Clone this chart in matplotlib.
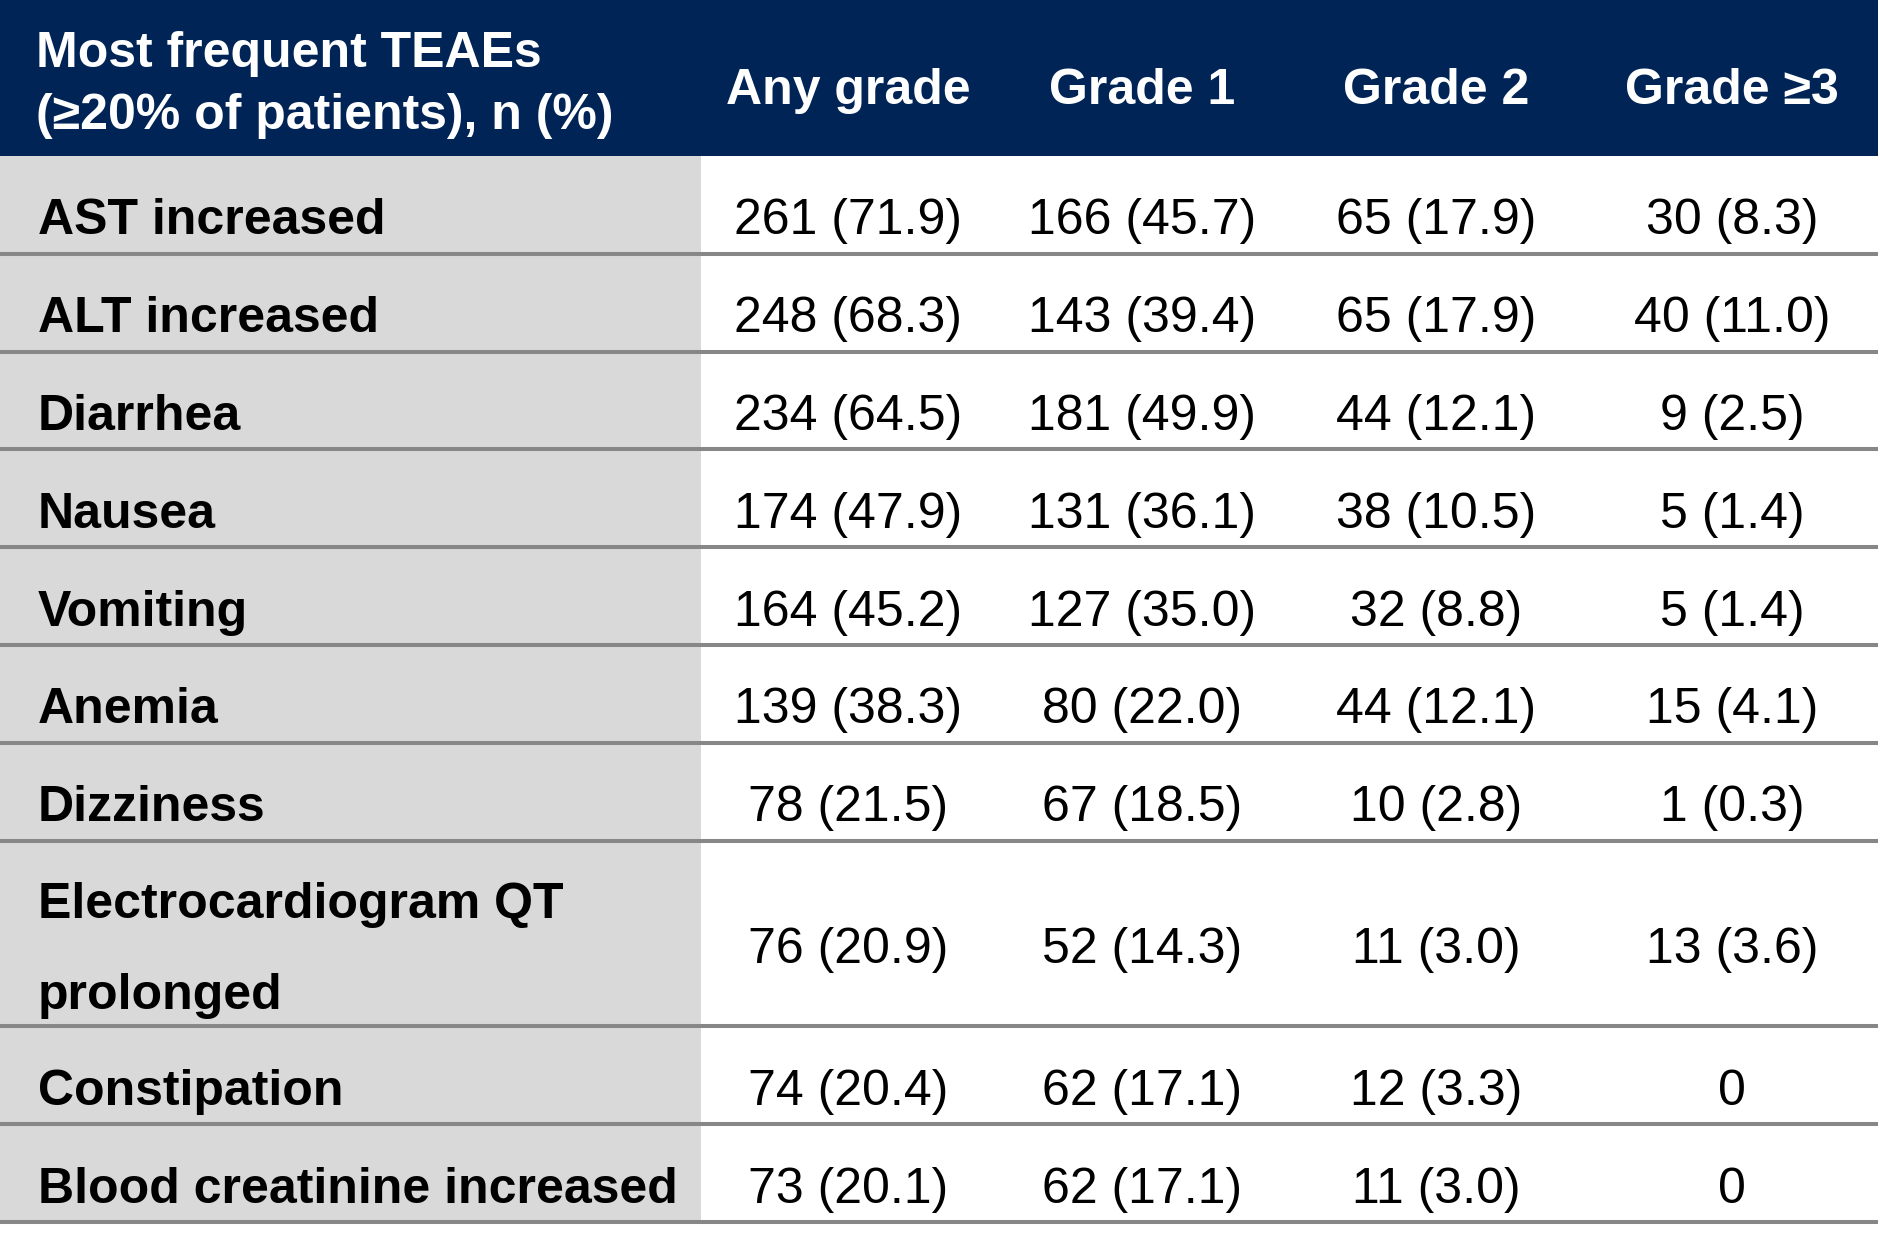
import matplotlib
matplotlib.use("Agg")
import matplotlib.pyplot as plt
from matplotlib.patches import Rectangle

# ---------------- data ----------------
header_label = ["Most frequent TEAEs", "(\u226520% of patients), n (%)"]
col_headers = ["Any grade", "Grade 1", "Grade 2", "Grade \u22653"]

ae_terms = ["AST increased", "ALT increased", "Diarrhea", "Nausea", "Vomiting",
            "Anemia", "Dizziness", "Electrocardiogram QT\nprolonged",
            "Constipation", "Blood creatinine increased"]

any_n = [261, 248, 234, 174, 164, 139, 78, 76, 74, 73]
any_pct = [71.9, 68.3, 64.5, 47.9, 45.2, 38.3, 21.5, 20.9, 20.4, 20.1]
g1_n = [166, 143, 181, 131, 127, 80, 67, 52, 62, 62]
g1_pct = [45.7, 39.4, 49.9, 36.1, 35.0, 22.0, 18.5, 14.3, 17.1, 17.1]
g2_n = [65, 65, 44, 38, 32, 44, 10, 11, 12, 11]
g2_pct = [17.9, 17.9, 12.1, 10.5, 8.8, 12.1, 2.8, 3.0, 3.3, 3.0]
g3_n = [30, 40, 9, 5, 5, 15, 1, 13, 0, 0]
g3_pct = [8.3, 11.0, 2.5, 1.4, 1.4, 4.1, 0.3, 3.6, 0.0, 0.0]

# ---------------- layout ----------------
W, H = 1881, 1245
NAVY = "#002456"
LGREY = "#d9d9d9"
LINEC = "#878787"
FS = 36
FONT = "Liberation Sans"

header_h = 156
row_unit = 97.8
row_heights = [1, 1, 1, 1, 1, 1, 1, 1.9, 1, 1]
label_col_w = 701
table_right = 1878
col_centers = [848, 1142, 1436, 1732]
label_x = 38

fig = plt.figure(figsize=(W / 100, H / 100), dpi=100)
ax = fig.add_axes([0, 0, 1, 1])
ax.set_xlim(0, W)
ax.set_ylim(H, 0)
ax.axis("off")

def fmt(n, p):
    return "0" if n == 0 else f"{n} ({p:.1f})"

# header
ax.add_patch(Rectangle((0, 0), table_right, header_h, color=NAVY, lw=0))
ax.text(36, 67, header_label[0], color="white", fontsize=FS, fontweight="bold",
        family=FONT, va="baseline", ha="left")
ax.text(36, 129, header_label[1], color="white", fontsize=FS, fontweight="bold",
        family=FONT, va="baseline", ha="left")
for cx, h in zip(col_centers, col_headers):
    ax.text(cx, 103.5, h, color="white", fontsize=FS, fontweight="bold",
            family=FONT, va="baseline", ha="center")

# body
total_h = sum(row_heights) * row_unit
ax.add_patch(Rectangle((0, header_h), label_col_w, total_h, color=LGREY, lw=0))

cols = [(any_n, any_pct), (g1_n, g1_pct), (g2_n, g2_pct), (g3_n, g3_pct)]
y = header_h
for i, term in enumerate(ae_terms):
    h = row_heights[i] * row_unit
    center = y + h / 2
    base = center + 29.5
    lines = term.split("\n")
    if len(lines) == 1:
        ax.text(label_x, base, term, fontsize=FS, fontweight="bold", family=FONT,
                va="baseline", ha="left", color="black")
    else:
        for k, ln in enumerate(lines):
            ax.text(label_x, base - 45.5 + 91 * k, ln, fontsize=FS, fontweight="bold",
                    family=FONT, va="baseline", ha="left", color="black")
    for cx, (ns, ps) in zip(col_centers, cols):
        ax.text(cx, base, fmt(ns[i], ps[i]), fontsize=FS, family=FONT,
                va="baseline", ha="center", color="black")
    y += h
    ax.plot([0, table_right], [y, y], color=LINEC, lw=2.9, solid_capstyle="butt")

fig.savefig("out.png", dpi=100, facecolor="white")
